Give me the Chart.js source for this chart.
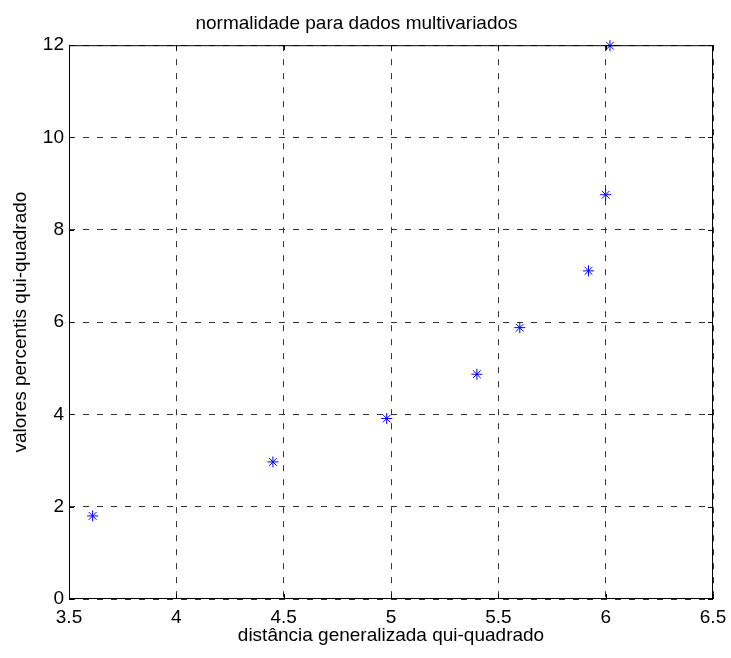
<!DOCTYPE html>
<html>
<head>
<meta charset="utf-8">
<script src="https://cdn.jsdelivr.net/npm/chart.js@4/dist/chart.umd.min.js"></script>
<style>
  html, body { margin: 0; padding: 0; background: #fff; }
  #wrap { width: 731px; height: 658px; }
</style>
</head>
<body>
<div id="wrap"><canvas id="chart" width="731" height="658"></canvas></div>
<script>
// values
const distValues = [3.61, 4.45, 4.98, 5.40, 5.60, 5.92, 6.00, 6.02];
const percValues = [1.80, 2.97, 3.91, 4.87, 5.88, 7.11, 8.76, 11.99];
const xTicks = [3.5, 4, 4.5, 5, 5.5, 6, 6.5];
const yTicks = [0, 2, 4, 6, 8, 10, 12];

const font = "'Liberation Sans', Arial, sans-serif";

// matlab style frame: closed box plus small inward tick marks
const boxPlugin = {
    id: 'box',
    afterDraw(chart) {
        const { ctx, chartArea: a, scales } = chart;
        ctx.save();
        ctx.strokeStyle = '#000';
        ctx.lineWidth = 1;
        ctx.strokeRect(a.left + 0.5, a.top + 0.5, a.right - a.left - 1, a.bottom - a.top - 1);
        ctx.beginPath();
        const len = 5;
        xTicks.forEach(v => {
            const x = Math.round(scales.x.getPixelForValue(v)) + 0.5;
            ctx.moveTo(x, a.bottom); ctx.lineTo(x, a.bottom - len);
            ctx.moveTo(x, a.top); ctx.lineTo(x, a.top + len);
        });
        yTicks.forEach(v => {
            const y = Math.round(scales.y.getPixelForValue(v)) + 0.5;
            ctx.moveTo(a.left, y); ctx.lineTo(a.left + len, y);
            ctx.moveTo(a.right, y); ctx.lineTo(a.right - len, y);
        });
        ctx.stroke();
        ctx.restore();
    }
};

new Chart(document.getElementById('chart'), {
    type: 'scatter',
    data: {
        datasets: [{
            data: distValues.map((d, i) => ({ x: d, y: percValues[i] })),
            pointStyle: 'star',
            pointRadius: 5.5,
            pointBorderWidth: 1,
            borderColor: '#0000ff',
            backgroundColor: '#0000ff',
            clip: false
        }]
    },
    options: {
        responsive: false,
        animation: false,
        layout: { padding: { left: 0, right: 18, top: 0, bottom: 0 } },
        plugins: {
            legend: { display: false },
            tooltip: { enabled: false },
            title: {
                display: true,
                text: 'normalidade para dados multivariados',
                color: '#000',
                font: { family: font, size: 19, weight: 'normal' },
                padding: { top: 12, bottom: 10.4 }
            }
        },
        scales: {
            x: {
                type: 'linear',
                min: 3.5,
                max: 6.5,
                afterBuildTicks: s => { s.ticks = xTicks.map(v => ({ value: v })); },
                afterFit: s => { s.height = 59; s.paddingLeft = 0; s.paddingRight = 0; },
                ticks: {
                    color: '#000',
                    padding: 7,
                    font: { family: font, size: 19 },
                    callback: v => String(v)
                },
                grid: { color: '#333', drawTicks: false, lineWidth: 1 },
                border: { display: false, dash: [6, 8] },
                title: {
                    display: true,
                    text: 'distância generalizada qui-quadrado',
                    color: '#000',
                    font: { family: font, size: 19 },
                    padding: { top: 0, bottom: 11 }
                }
            },
            y: {
                type: 'linear',
                min: 0,
                max: 12,
                afterBuildTicks: s => { s.ticks = yTicks.map(v => ({ value: v })); },
                afterFit: s => { s.width = 69; s.paddingTop = 0; s.paddingBottom = 0; },
                ticks: {
                    color: '#000',
                    padding: 5,
                    font: { family: font, size: 19 },
                    callback: v => String(v)
                },
                grid: { color: '#333', drawTicks: false, lineWidth: 1 },
                border: { display: false, dash: [6, 8] },
                title: {
                    display: true,
                    text: 'valores percentis qui-quadrado',
                    color: '#000',
                    font: { family: font, size: 19 },
                    padding: { top: 9, bottom: 0 }
                }
            }
        }
    },
    plugins: [boxPlugin]
});
</script>
</body>
</html>
